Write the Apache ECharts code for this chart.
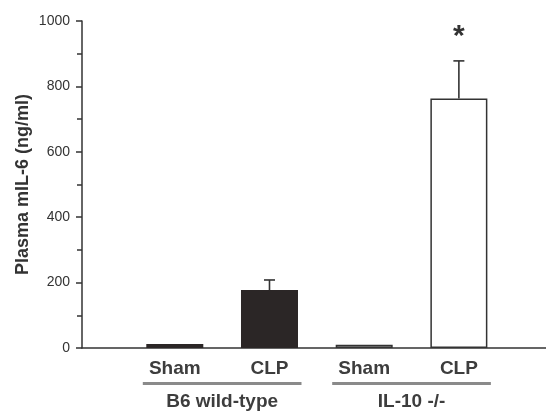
<!DOCTYPE html>
<html>
<head>
<meta charset="utf-8">
<script src="https://cdn.jsdelivr.net/npm/echarts@6/dist/echarts.min.js"></script>
<style>
html, body { margin: 0; padding: 0; background: #fff; }
#main { width: 546px; height: 412px; }
</style>
</head>
<body>
<div id="main"></div>
<script>
// data
var categories = ['Sham', 'CLP', 'Sham', 'CLP'];
var positions = [1, 2, 3, 4];
var means = [12, 177, 10, 763];
var errors = [0, 31, 0, 115];
var marks = ['', '', '', '*'];
var groupNames = ['B6 wild-type', 'IL-10 -/-'];
var groupSpans = [[1, 2], [3, 4]];
var yTicks = [0, 200, 400, 600, 800, 1000];

var ink = '#333';
var fills = ['#2b2626', '#2b2626', '#ffffff', '#ffffff'];

var barData = [];
var errData = [];
for (var i = 0; i < positions.length; i++) {
    barData.push({
        value: [positions[i], means[i]],
        itemStyle: { color: fills[i], borderColor: ink, borderWidth: fills[i] == '#ffffff' ? 1.5 : 0 }
    });
    errData.push([positions[i], means[i], errors[i]]);
}

function renderErr(params, api)
{
    var x = api.value(0), v = api.value(1), e = api.value(2);
    var base = api.coord([x, v]);
    var top = api.coord([x, v + e]);
    var zero = api.coord([x, 0]);
    var kids = [];
    var st = { stroke: ink, lineWidth: 1.6 };
    if (e > 0) {
        kids.push({ type: 'line', shape: { x1: base[0], y1: base[1], x2: top[0], y2: top[1] }, style: st });
        kids.push({ type: 'line', shape: { x1: top[0] - 5.5, y1: top[1], x2: top[0] + 5.5, y2: top[1] }, style: st });
    }
    // category label under axis
    kids.push({
        type: 'text',
        style: {
            x: zero[0], y: zero[1] + 11, text: categories[params.dataIndex],
            align: 'center', verticalAlign: 'top',
            font: 'bold 19px Arial, "Liberation Sans", sans-serif', fill: '#3d3d3d'
        }
    });
    if (marks[params.dataIndex]) {
        kids.push({
            type: 'text',
            style: {
                x: top[0], y: top[1] - 9, text: marks[params.dataIndex],
                align: 'center', verticalAlign: 'bottom',
                font: 'bold 30px Arial, "Liberation Sans", sans-serif', fill: ink
            }
        });
    }
    return { type: 'group', children: kids };
}

function renderGroup(params, api)
{
    var a = api.coord([api.value(0), 0]);
    var b = api.coord([api.value(1), 0]);
    return {
        type: 'group',
        children: [
            { type: 'rect', shape: { x: a[0] - 32, y: a[1] + 34, width: b[0] - a[0] + 64, height: 3 },
              style: { fill: '#8a8a8a' } },
            { type: 'text',
              style: { x: (a[0] + b[0]) / 2, y: a[1] + 54, text: groupNames[params.dataIndex],
                       align: 'center', verticalAlign: 'middle',
                       font: 'bold 19px Arial, "Liberation Sans", sans-serif', fill: '#3d3d3d' } }
        ]
    };
}

var chart = echarts.init(document.getElementById('main'), null, { renderer: 'canvas' });
chart.setOption({
    animation: false,
    backgroundColor: '#fff',
    grid: { left: 82, right: 0, top: 21, bottom: 64 },
    xAxis: {
        type: 'value', min: 0.02, max: 4.92,
        axisLine: { show: true, lineStyle: { color: ink, width: 1.5 } },
        axisTick: { show: false },
        axisLabel: { show: false },
        splitLine: { show: false }
    },
    yAxis: {
        type: 'value', min: yTicks[0], max: yTicks[yTicks.length - 1], interval: 200,
        name: 'Plasma mIL-6 (ng/ml)',
        nameLocation: 'middle', nameGap: 50, nameRotate: 90, nameMoveOverlap: false,
        nameTextStyle: { fontFamily: 'Arial, "Liberation Sans", sans-serif', fontWeight: 'bold', fontSize: 18, color: '#333' },
        axisLine: { show: true, lineStyle: { color: ink, width: 1.5 } },
        axisTick: { show: true, length: 6, lineStyle: { color: ink, width: 1.5 } },
        minorTick: { show: true, splitNumber: 2, length: 5, lineStyle: { color: ink, width: 1.5 } },
        axisLabel: {
            margin: 12, fontFamily: 'Arial, "Liberation Sans", sans-serif', fontSize: 14, color: '#333',
            formatter: function (v) { return String(v); }
        },
        splitLine: { show: false }
    },
    series: [
        { type: 'bar', data: barData, barWidth: 57 },
        { type: 'custom', data: errData, renderItem: renderErr, clip: false, z: 3 },
        { type: 'custom', data: groupSpans, renderItem: renderGroup, clip: false, z: 3 }
    ]
});
</script>
</body>
</html>
